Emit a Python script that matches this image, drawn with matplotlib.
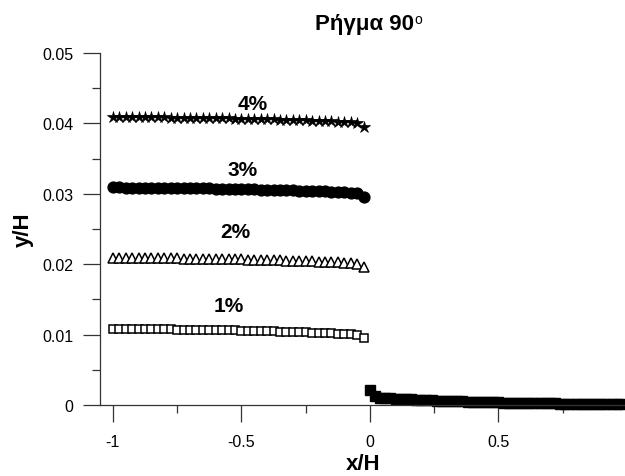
import matplotlib
matplotlib.use("Agg")
import matplotlib.pyplot as plt
from matplotlib.ticker import FixedLocator

plt.rcParams['font.family'] = ['Liberation Sans', 'DejaVu Sans']

# ---- data ----
x_left = [-1.000, -0.975, -0.950, -0.925, -0.900, -0.875, -0.850, -0.825, -0.800, -0.775,
          -0.750, -0.725, -0.700, -0.675, -0.650, -0.625, -0.600, -0.575, -0.550, -0.525,
          -0.500, -0.475, -0.450, -0.425, -0.400, -0.375, -0.350, -0.325, -0.300, -0.275,
          -0.250, -0.225, -0.200, -0.175, -0.150, -0.125, -0.100, -0.075, -0.050, -0.025]

y_1pct = [0.01080, 0.01080, 0.01079, 0.01079, 0.01078, 0.01077, 0.01076, 0.01075, 0.01074, 0.01073,
          0.01072, 0.01071, 0.01070, 0.01068, 0.01067, 0.01066, 0.01064, 0.01063, 0.01061, 0.01059,
          0.01057, 0.01055, 0.01053, 0.01051, 0.01049, 0.01047, 0.01044, 0.01042, 0.01039, 0.01036,
          0.01033, 0.01030, 0.01027, 0.01023, 0.01019, 0.01015, 0.01010, 0.01004, 0.00997, 0.00955]

y_2pct = [0.02090, 0.02090, 0.02089, 0.02089, 0.02088, 0.02087, 0.02086, 0.02085, 0.02084, 0.02083,
          0.02082, 0.02081, 0.02080, 0.02078, 0.02077, 0.02076, 0.02074, 0.02073, 0.02071, 0.02069,
          0.02067, 0.02065, 0.02063, 0.02061, 0.02059, 0.02057, 0.02054, 0.02052, 0.02049, 0.02046,
          0.02043, 0.02040, 0.02037, 0.02033, 0.02029, 0.02025, 0.02020, 0.02014, 0.02007, 0.01965]

y_3pct = [0.03090, 0.03090, 0.03089, 0.03089, 0.03088, 0.03087, 0.03086, 0.03085, 0.03084, 0.03083,
          0.03082, 0.03081, 0.03080, 0.03078, 0.03077, 0.03076, 0.03074, 0.03073, 0.03071, 0.03069,
          0.03067, 0.03065, 0.03063, 0.03061, 0.03059, 0.03057, 0.03054, 0.03052, 0.03049, 0.03046,
          0.03043, 0.03040, 0.03037, 0.03033, 0.03029, 0.03025, 0.03020, 0.03013, 0.03005, 0.02950]

y_4pct = [0.04090, 0.04090, 0.04089, 0.04089, 0.04088, 0.04087, 0.04086, 0.04085, 0.04084, 0.04083,
          0.04082, 0.04081, 0.04080, 0.04078, 0.04077, 0.04076, 0.04074, 0.04073, 0.04071, 0.04069,
          0.04067, 0.04065, 0.04063, 0.04061, 0.04059, 0.04057, 0.04054, 0.04052, 0.04049, 0.04046,
          0.04043, 0.04040, 0.04037, 0.04033, 0.04029, 0.04025, 0.04020, 0.04014, 0.04007, 0.03955]

x_right = [0.00, 0.02, 0.04, 0.06, 0.08, 0.10, 0.12, 0.14, 0.16, 0.18,
           0.20, 0.22, 0.24, 0.26, 0.28, 0.30, 0.32, 0.34, 0.36, 0.38,
           0.40, 0.42, 0.44, 0.46, 0.48, 0.50, 0.52, 0.54, 0.56, 0.58,
           0.60, 0.62, 0.64, 0.66, 0.68, 0.70, 0.72, 0.74, 0.76, 0.78,
           0.80, 0.82, 0.84, 0.86, 0.88, 0.90, 0.92, 0.94, 0.96, 0.98]
y_right = [0.00220, 0.00135, 0.00105, 0.00098, 0.00093, 0.00089, 0.00085, 0.00082, 0.00079, 0.00076,
           0.00073, 0.00070, 0.00067, 0.00064, 0.00061, 0.00058, 0.00056, 0.00053, 0.00051, 0.00049,
           0.00047, 0.00045, 0.00043, 0.00041, 0.00039, 0.00037, 0.00035, 0.00034, 0.00032, 0.00031,
           0.00029, 0.00028, 0.00026, 0.00025, 0.00024, 0.00023, 0.00022, 0.00021, 0.00020, 0.00019,
           0.00018, 0.00017, 0.00016, 0.00015, 0.00014, 0.00014, 0.00013, 0.00012, 0.00012, 0.00011]

series_labels = ['1%', '2%', '3%', '4%']
label_x = [-0.55, -0.525, -0.494, -0.455]
label_y = [0.0141, 0.0247, 0.0335, 0.0428]

x_ticks = [-1, -0.5, 0, 0.5]
x_tick_labels = ['-1', '-0.5', '0', '0.5']
x_minor = [-0.75, -0.25, 0.25, 0.75]
y_ticks = [0, 0.01, 0.02, 0.03, 0.04, 0.05]
y_tick_labels = ['0', '0.01', '0.02', '0.03', '0.04', '0.05']
y_minor = [0.005, 0.015, 0.025, 0.035, 0.045]

# ---- figure ----
fig = plt.figure(figsize=(6.25, 4.77), dpi=100)
ax = fig.add_axes([0.16, 0.1488, 0.8432, 0.738])
ax.set_xlim(-1.05, 1.0)
ax.set_ylim(0, 0.05)

ax.plot(x_left, y_1pct, ls='none', marker='s', ms=6.0, mfc='white', mec='black', mew=1.1)
ax.plot(x_left, y_2pct, ls='none', marker='^', ms=6.5, mfc='white', mec='black', mew=1.1)
ax.plot(x_left, y_3pct, ls='none', marker='o', ms=7.8, mfc='black', mec='black')
ax.plot(x_left, y_4pct, ls='none', marker='*', ms=9.0, mfc='black', mec='black', mew=0.5)
ax.plot(x_right, y_right, ls='none', marker='s', ms=7.2, mfc='black', mec='black', clip_on=False)

for lab, lx, ly in zip(series_labels, label_x, label_y):
    ax.text(lx, ly, lab, ha='center', va='center', fontsize=15, fontweight='bold')

for s in ['top', 'right']:
    ax.spines[s].set_visible(False)
for s in ['left', 'bottom']:
    ax.spines[s].set_color('#333333')
    ax.spines[s].set_linewidth(0.9)

ax.set_xticks(x_ticks)
ax.set_xticklabels(x_tick_labels)
ax.xaxis.set_minor_locator(FixedLocator(x_minor))
ax.set_yticks(y_ticks)
ax.set_yticklabels(y_tick_labels)
ax.yaxis.set_minor_locator(FixedLocator(y_minor))
ax.tick_params(which='major', direction='out', length=12, width=0.9, color='#333333',
               labelsize=11.5, pad=7)
ax.tick_params(which='minor', direction='out', length=6, width=0.9, color='#333333')
ax.tick_params(axis='x', which='major', pad=9)

ax.set_xlabel('x/H', fontsize=16, fontweight='bold')
ax.xaxis.set_label_coords(0.5, -0.137)
ax.set_ylabel('y/H', fontsize=16, fontweight='bold', labelpad=6)

fig.text(315 / 625, 1 - 30 / 477, 'Ρήγμα 90', ha='left', va='baseline',
         fontsize=16, fontweight='bold')
fig.text(414 / 625, 1 - 24 / 477, 'o', ha='left', va='baseline', fontsize=10)

fig.savefig('out.png', dpi=100)
